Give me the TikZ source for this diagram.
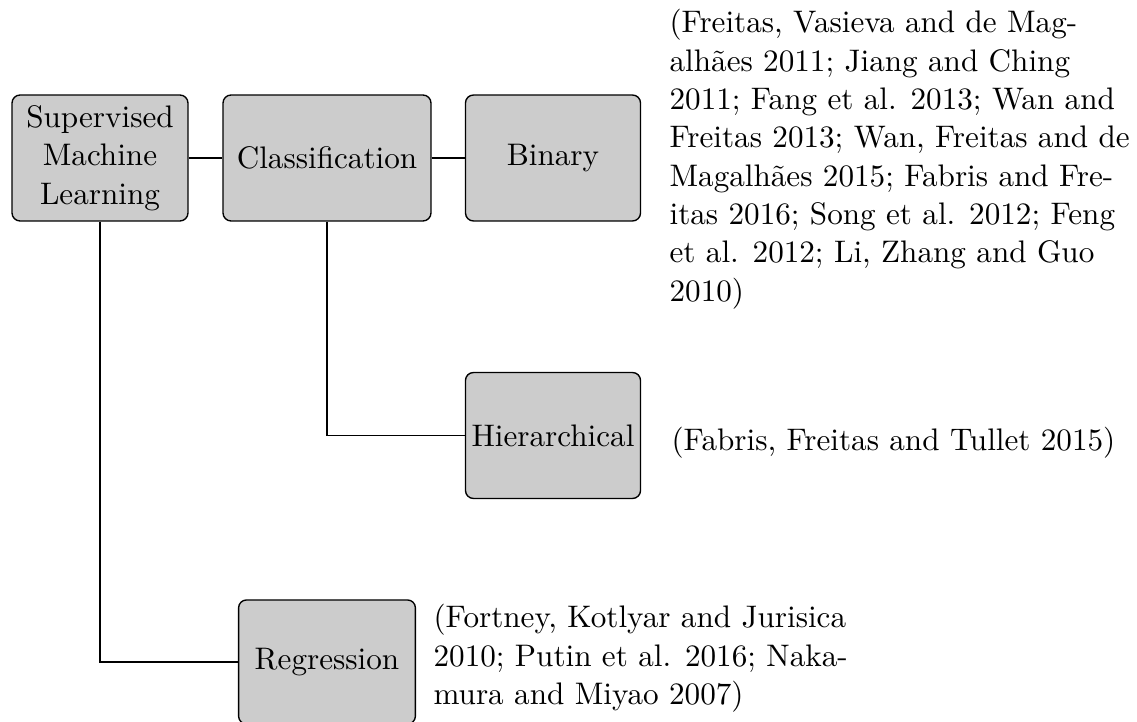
\documentclass[tikz,border=0pt]{standalone}
\usepackage{tikz}
\definecolor{boxgray}{HTML}{CCCCCC}
\begin{document}
\begin{tikzpicture}[x=0.328pt, y=-0.328pt,
  every node/.style={font=\fontsize{10.22}{12.56}\selectfont},
  box/.style={draw=black, fill=boxgray, line width=0.45pt, rounded corners=2.6pt,
    align=center, inner sep=0pt, minimum height=41.3pt},
  cite/.style={align=left, inner sep=0pt, anchor=north west},
  link/.style={draw=black, line width=0.45pt}]
  \useasboundingbox (0,0) rectangle (1137,722);

  % method boxes
  \node[box, minimum width=57.7pt] (sml) at (100,158) {Supervised\\Machine\\Learning};
  \node[box, minimum width=68.2pt] (cls) at (327,158) {Classification};
  \node[box, minimum width=57.4pt] (bin) at (553,158) {Binary};
  \node[box, minimum width=57.4pt] (hier) at (553,435.5) {Hierarchical};
  \node[box, minimum width=58pt, minimum height=40.7pt] (reg) at (327,662) {Regression};

  % tree connectors
  \draw[link] (sml.east) -- (cls.west);
  \draw[link] (cls.east) -- (bin.west);
  \draw[link] (cls.south) |- (hier.west);
  \draw[link] (sml.south) |- (reg.west);

  % references for each method
  \node[cite] (binref) at (669,9) {(Freitas, Vasieva and de Mag-\\
    alhães 2011; Jiang and Ching\\
    2011; Fang et al. 2013; Wan and\\
    Freitas 2013; Wan, Freitas and de\\
    Magalhães 2015; Fabris and Fre-\\
    itas 2016; Song et al. 2012; Feng\\
    et al. 2012; Li, Zhang and Guo\\
    2010)};
  \node[anchor=base west, inner sep=0pt] (hierref) at (671,451) {(Fabris, Freitas and Tullet 2015)};
  \node[cite] (regref) at (433,604) {(Fortney, Kotlyar and Jurisica\\
    2010; Putin et al. 2016; Naka-\\
    mura and Miyao 2007)};
\end{tikzpicture}
\end{document}
